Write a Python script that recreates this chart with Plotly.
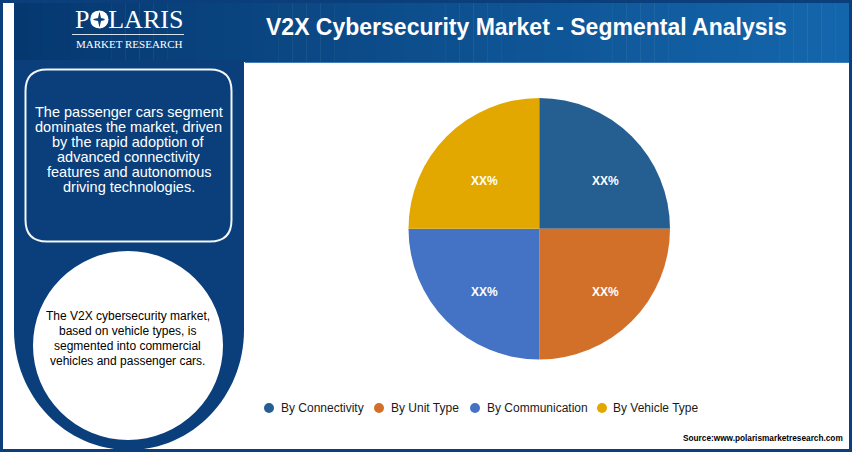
import plotly.graph_objects as go

# datos del grafico
segmentos = ["By Connectivity", "By Unit Type", "By Communication", "By Vehicle Type"]
valores = [25, 25, 25, 25]
etiquetas = ["XX%", "XX%", "XX%", "XX%"]
colores = ["#255E91", "#D2702A", "#4472C4", "#E3A800"]

titulo = "V2X Cybersecurity Market - Segmental Analysis"
lineas_caja = ["The passenger cars segment", "dominates the market, driven", "by the rapid adoption of",
               "advanced connectivity", "features and autonomous", "driving technologies."]
lineas_circulo = ["The V2X cybersecurity market,", "based on vehicle types, is",
                  "segmented into commercial", "vehicles and passenger cars."]
fuente = "Source:www.polarismarketresearch.com"

W, H = 852, 452
AZUL = "#0A3F7C"


def fx(px):
    return px / W


def fy(py):
    return 1 - py / H


def mezcla(c1, c2, t):
    return "rgb(%d,%d,%d)" % tuple(round(a + (b - a) * t) for a, b in zip(c1, c2))


def rect(x0, y0, x1, y1, color):
    return dict(type="rect", xref="x", yref="y", x0=x0, y0=y0, x1=x1, y1=y1,
                fillcolor=color, line=dict(width=0), layer="below")


def texto(x, y, s, size, color="#000000", family="Liberation Sans", anchor="center"):
    return dict(x=x, y=y, xref="x", yref="y", text=s, showarrow=False, xanchor=anchor, yanchor="middle",
                align="center", font=dict(family=family, size=size, color=color))


shapes = []

# marco exterior
shapes.append(rect(0, 0, W, H, AZUL))
shapes.append(rect(3, 3, 849, 449, "#FFFFFF"))

# cabecera con degradado
n = 60
for i in range(n):
    x0 = 14 + (849 - 14) * i / n
    x1 = min(14 + (849 - 14) * (i + 1) / n + 0.5, 849)
    shapes.append(rect(x0, 3, x1, 62, mezcla((6, 56, 112), (20, 102, 172), i / (n - 1))))

shapes.append(rect(245, 62, 849, 63, "#3F7DB8"))

# panel lateral con fondo curvo
shapes.append(dict(type="path", xref="x", yref="y", layer="below",
                   path="M 14 60 L 244 60 L 244 330 C 244 396 193 450 129 450 C 65 450 14 396 14 330 Z",
                   fillcolor=AZUL, line=dict(width=0)))

# caja redondeada
shapes.append(dict(type="path", xref="x", yref="y", layer="below",
                   path="M 47 69.5 L 210 69.5 Q 231.5 69.5 231.5 91 L 231.5 220 Q 231.5 241.5 210 241.5 "
                        "L 47 241.5 Q 25.5 241.5 25.5 220 L 25.5 91 Q 25.5 69.5 47 69.5 Z",
                   fillcolor="rgba(0,0,0,0)", line=dict(color="#F2F5F9", width=2)))

# circulo blanco
shapes.append(dict(type="circle", xref="x", yref="y", layer="below", x0=33, y0=251, x1=223, y1=440,
                   fillcolor="#FFFFFF", line=dict(width=0)))

# linea del logo
shapes.append(dict(type="line", xref="x", yref="y", x0=72, x1=184, y0=34.5, y1=34.5,
                   line=dict(color="#D5E0EC", width=1)))

# la O del logo: disco con estrella
shapes.append(dict(type="circle", xref="x", yref="y", x0=90.5, x1=108.5, y0=10.5, y1=28.5,
                   fillcolor="#FFFFFF", line=dict(width=0)))
shapes.append(dict(type="path", xref="x", yref="y",
                   path="M 99.5 11.5 L 101 18 L 107.5 19.5 L 101 21 L 99.5 27.5 L 98 21 L 91.5 19.5 L 98 18 Z",
                   fillcolor=AZUL, line=dict(width=0)))

annotations = [
    texto(526, 27, "<b>%s</b>" % titulo, 23, "#FFFFFF"),
    texto(129, 19.5, "POLARIS", 26, "#FFFFFF", "Liberation Serif"),
    texto(129, 43.5, "MARKET RESEARCH", 11, "#FFFFFF", "Liberation Serif"),
    texto(845, 438, "<b>%s</b>" % fuente, 8.25, "#000000", anchor="right"),
]

# textos del panel, linea por linea
for i, linea in enumerate(lineas_caja):
    annotations.append(texto(128.5, 112 + 15 * i, linea, 14.5, "#FFFFFF"))
for i, linea in enumerate(lineas_circulo):
    annotations.append(texto(127.5, 316 + 15 * i, linea, 12, "#000000"))

# etiquetas de la torta
pos_etiquetas = [(605.5, 180.5), (605.5, 291.5), (484, 291.5), (484, 180.5)]
for (xe, ye), etiqueta in zip(pos_etiquetas, etiquetas):
    annotations.append(texto(xe, ye, "<b>%s</b>" % etiqueta, 12, "#FFFFFF"))

# leyenda
pos_circulo = [269, 379, 475, 602]
pos_texto = [279, 389, 485, 611]
for nombre, color, xc, xt in zip(segmentos, colores, pos_circulo, pos_texto):
    shapes.append(dict(type="circle", xref="x", yref="y", x0=xc - 5, x1=xc + 5, y0=403, y1=413,
                       fillcolor=color, line=dict(width=0)))
    annotations.append(texto(xt, 408, nombre, 12, "#1A1A1A", anchor="left"))

fig = go.Figure()

fig.add_trace(go.Pie(
    labels=segmentos,
    values=valores,
    textinfo="none",
    marker=dict(colors=colores, line=dict(width=0)),
    sort=False,
    direction="clockwise",
    rotation=0,
    domain=dict(x=[fx(408.5), fx(670)], y=[fy(359.5), fy(98)]),
    showlegend=False,
    hoverinfo="label",
))

fig.update_layout(
    width=W,
    height=H,
    margin=dict(l=0, r=0, t=0, b=0),
    paper_bgcolor="#FFFFFF",
    plot_bgcolor="rgba(0,0,0,0)",
    xaxis=dict(visible=False, range=[0, W], fixedrange=True),
    yaxis=dict(visible=False, range=[H, 0], fixedrange=True),
    shapes=shapes,
    annotations=annotations,
    showlegend=False,
)

fig.write_html("out.html", config=dict(displayModeBar=False), post_script="document.body.style.margin='0';")
